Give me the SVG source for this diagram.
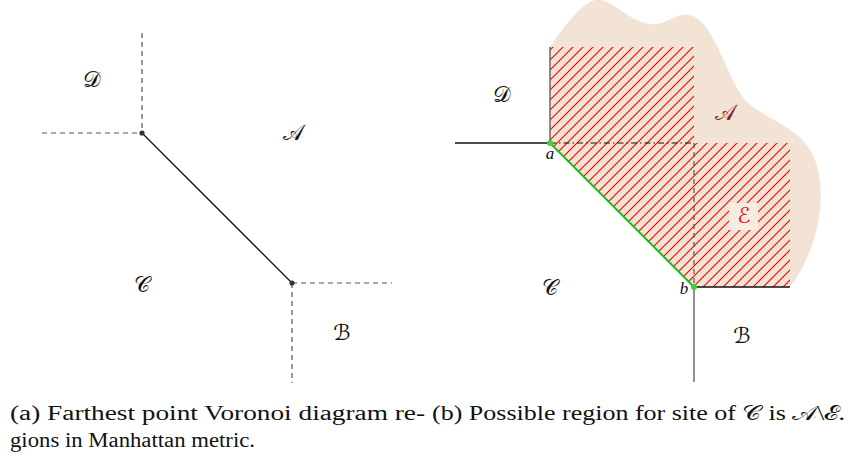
<svg xmlns="http://www.w3.org/2000/svg" width="848" height="462" viewBox="0 0 848 462">
<style>
.lbl{font-family:"DejaVu Sans",sans-serif;font-size:22px;text-anchor:middle;fill:#111}
.pt{font-family:"Liberation Serif",serif;font-style:italic;font-size:17px;text-anchor:middle;fill:#111}
.cap{font-family:"Liberation Serif",serif;font-size:20px;fill:#111}
.dash{stroke:#555;stroke-width:1.2;stroke-dasharray:5,4;fill:none}
.solid{stroke:#111;stroke-width:1.3;fill:none}
.gsolid{stroke:#555;stroke-width:1.3;fill:none}
.hl{stroke:#ff0000;stroke-width:1.1;fill:none}
</style>
<defs>
<pattern id="hatch" patternUnits="userSpaceOnUse" width="10" height="10">
<path class="hl" d="M-1,1 L1,-1 M0,10 L10,0 M9,11 L11,9"/>
</pattern>
</defs>
<rect width="848" height="462" fill="#ffffff"/>

<g id="panel-a">
<g id="connectors-a">
<line class="dash" x1="142" y1="33" x2="142" y2="133"/>
<line class="dash" x1="42" y1="133" x2="142" y2="133"/>
<line class="dash" x1="292" y1="283" x2="392" y2="283"/>
<line class="dash" x1="292" y1="283" x2="292" y2="383"/>
<line class="solid" x1="142" y1="133" x2="292" y2="283"/>
</g>
<g id="vertex-a1"><circle cx="142" cy="133" r="2.6" fill="#333"/></g>
<g id="vertex-a2"><circle cx="292" cy="283" r="2.6" fill="#333"/></g>
<g id="region-D-a"><text class="lbl" x="92" y="87">𝒟</text></g>
<g id="region-A-a"><text class="lbl" x="293" y="140">𝒜</text></g>
<g id="region-C-a"><text class="lbl" x="142" y="292">𝒞</text></g>
<g id="region-B-a"><text class="lbl" x="342" y="340">ℬ</text></g>
</g>

<g id="panel-b">
<g id="region-A-blob">
<path d="M550,47 C565,25 580,5 595,0 C612,-3 628,22 650,24 C668,26 675,12 690,15 C715,22 725,75 745,100 C765,120 795,125 810,150 C828,178 825,240 790,287 L694,287 L550,143 Z" fill="#f2e3d5"/>
</g>
<g id="region-E">
<path d="M550,47 L694,47 L694,143 L790,143 L790,287 L694,287 L550,143 Z" fill="url(#hatch)"/>
<rect x="729" y="203" width="29" height="27" fill="#f6ece2"/>
<text class="lbl" x="744" y="223" style="fill:#ee1111">ℰ</text>
</g>
<g id="connectors-b">
<line class="solid" x1="455" y1="143" x2="550" y2="143"/>
<line class="gsolid" x1="550" y1="47" x2="550" y2="143"/>
<line stroke="#111" stroke-width="1.2" stroke-dasharray="6,3,1.5,3" x1="550" y1="143" x2="694" y2="143"/>
<line class="dash" x1="694" y1="143" x2="694" y2="287"/>
<line class="solid" x1="694" y1="287" x2="790" y2="287"/>
<line class="gsolid" x1="694" y1="287" x2="694" y2="382"/>
<line stroke="#22bb22" stroke-width="2" x1="550" y1="143" x2="694" y2="287"/>
</g>
<g id="point-a"><circle cx="550" cy="143" r="3" fill="#44cc44"/><text class="pt" x="550" y="159">a</text></g>
<g id="point-b"><circle cx="694" cy="287" r="3" fill="#44cc44"/><text class="pt" x="684" y="294">b</text></g>
<g id="region-D-b"><text class="lbl" x="502" y="102">𝒟</text></g>
<g id="region-A-b"><text class="lbl" x="725" y="120" style="fill:#8b1a1a">𝒜</text></g>
<g id="region-C-b"><text class="lbl" x="550" y="295">𝒞</text></g>
<g id="region-B-b"><text class="lbl" x="742" y="343">ℬ</text></g>
</g>

<g id="captions">
<text class="cap" x="10" y="420" textLength="415" lengthAdjust="spacingAndGlyphs">(a) Farthest point Voronoi diagram re-</text>
<text class="cap" x="10" y="447" textLength="245" lengthAdjust="spacingAndGlyphs">gions in Manhattan metric.</text>
<text class="cap" x="432" y="420" textLength="413" lengthAdjust="spacingAndGlyphs">(b) Possible region for site of 𝒞 is 𝒜\ℰ.</text>
</g>
</svg>
